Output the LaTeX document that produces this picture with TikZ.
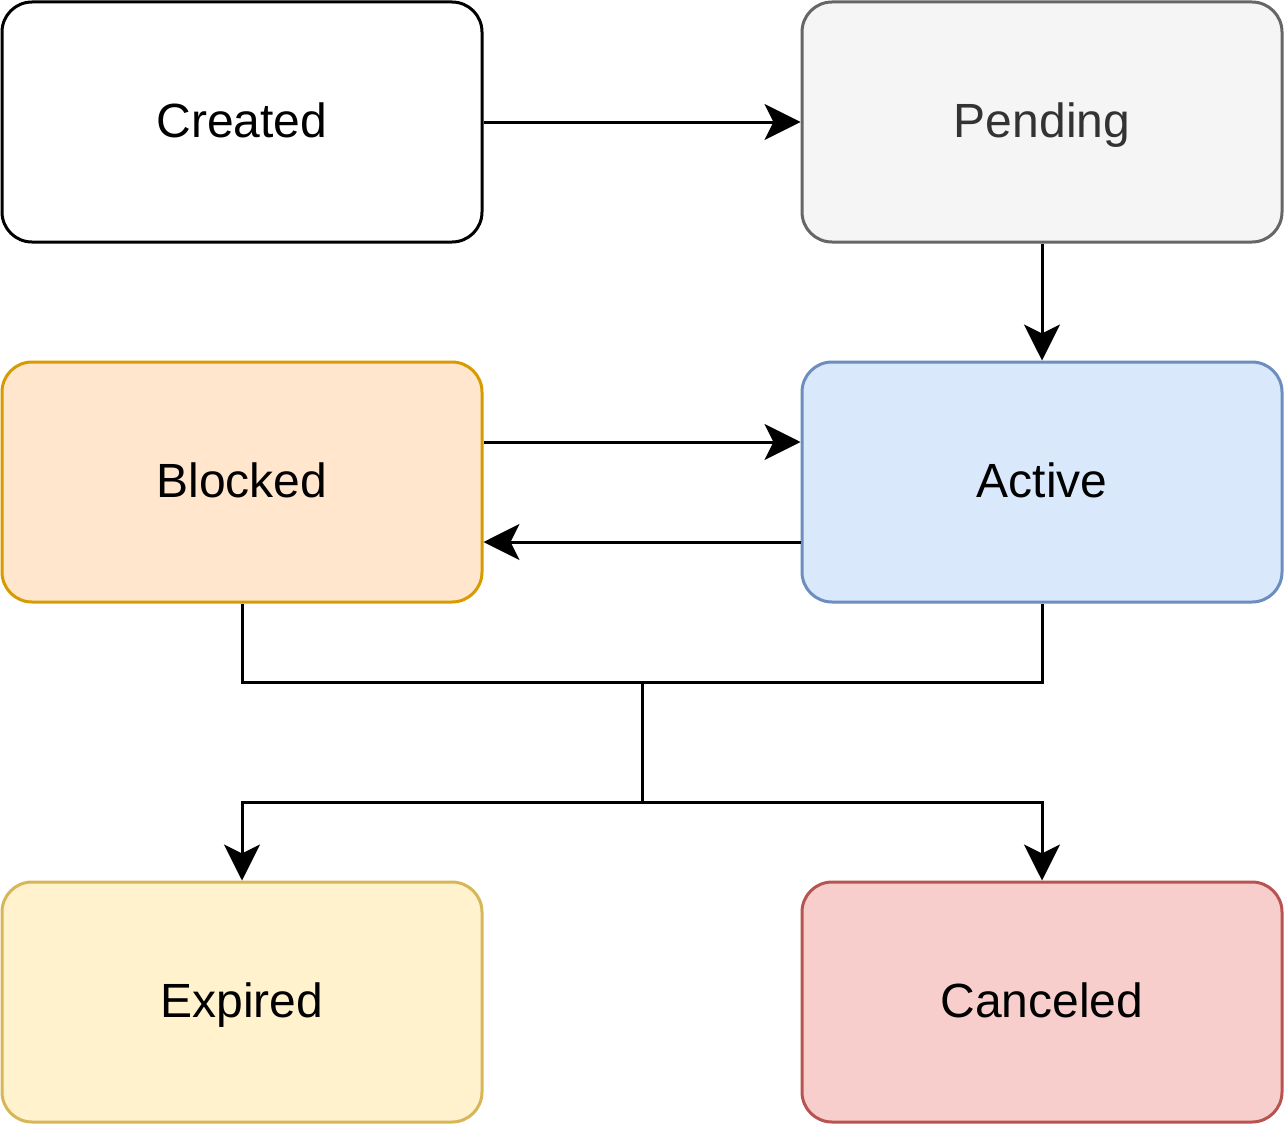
\documentclass[tikz,border=0pt]{standalone}
\usepackage{fontspec}
\setmainfont{Liberation Sans}
\usetikzlibrary{arrows.meta}
\definecolor{pendF}{HTML}{F5F5F5}\definecolor{pendD}{HTML}{666666}\definecolor{pendT}{HTML}{333333}
\definecolor{blkF}{HTML}{FFE6CC}\definecolor{blkD}{HTML}{D79B00}
\definecolor{actF}{HTML}{DAE8FC}\definecolor{actD}{HTML}{6C8EBF}
\definecolor{expF}{HTML}{FFF2CC}\definecolor{expD}{HTML}{D6B656}
\definecolor{canF}{HTML}{F8CECC}\definecolor{canD}{HTML}{B85450}
\tikzset{
  state/.style={draw, line width=3pt, rounded corners=30pt, minimum width=480pt, minimum height=240pt, inner sep=0pt, text height=40pt, text depth=10pt, font=\fontsize{48}{52}\selectfont},
  conn/.style={line width=3pt, -{Stealth[length=36pt, width=36pt, inset=9pt]}},
  plain/.style={line width=3pt}
}
\begin{document}
\begin{tikzpicture}[x=1pt,y=-1pt]
\useasboundingbox (0,0) rectangle (1284,1124);
\node[state, fill=white] (created) at (242,122) {Created};
\node[state, fill=pendF, draw=pendD, text=pendT] (pending) at (1042,122) {Pending};
\node[state, fill=blkF, draw=blkD] (blocked) at (242,482) {Blocked};
\node[state, fill=actF, draw=actD] (active) at (1042,482) {Active};
\node[state, fill=expF, draw=expD] (expired) at (242,1002) {Expired};
\node[state, fill=canF, draw=canD] (canceled) at (1042,1002) {Canceled};
\coordinate (j1) at (642,682);
\coordinate (j2) at (642,802);
\draw[conn] (created.east) -- (pending.west);
\draw[conn] (pending.south) -- (active.north);
\draw[conn] (blocked.east |- 0,442) -- (active.west |- 0,442);
\draw[conn] (active.west |- 0,542) -- (blocked.east |- 0,542);
\draw[plain] (blocked.south) |- (j1) -| (active.south);
\draw[plain] (j1) -- (j2);
\draw[conn] (j2) -| (expired.north);
\draw[conn] (j2) -| (canceled.north);
\end{tikzpicture}
\end{document}
